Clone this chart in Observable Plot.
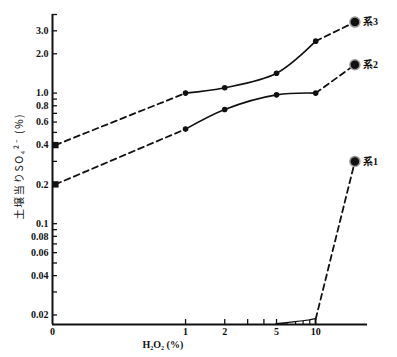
<!DOCTYPE html>
<html><head><meta charset="utf-8">
<script src="https://cdn.jsdelivr.net/npm/d3@7"></script>
<script src="https://cdn.jsdelivr.net/npm/@observablehq/plot@0.6"></script>
<style>body{margin:0;background:#fff} .ytitle text{letter-spacing:1.5px}</style></head>
<body><div id="chart"></div>
<script>
// H2O2 concentration (%)
const h2o2 = [0, 1, 2, 5, 10, 20];
const series3 = [0.4, 1.0, 1.1, 1.42, 2.5, 3.5];
const series2 = [0.2, 0.53, 0.75, 0.97, 1.0, 1.65];
const series1X = [5, 6, 7, 8, 9, 10, 20];
const series1 = [0.017, 0.0173, 0.0176, 0.0179, 0.0182, 0.0186, 0.3];
const seriesNames = ["系1", "系2", "系3"];
const xTicks = [1, 2, 3, 4, 5, 10];
const xLabeled = [0, 1, 2, 5, 10];
const xLabelText = ["0", "1", "2", "5", "10"];
const yTicks = [0.02,0.03,0.04,0.05,0.06,0.07,0.08,0.09,0.1,0.2,0.3,0.4,0.5,0.6,0.7,0.8,0.9,1.0,2.0,3.0,4.0];
const yLabeled = [0.02,0.04,0.06,0.08,0.1,0.2,0.4,0.6,0.8,1.0,2.0,3.0];
const yLabelText = ["0.02","0.04","0.06","0.08","0.1","0.2","0.4","0.6","0.8","1.0","2.0","3.0"];
const xTitle = "H₂O₂ (%)";
const yTitle = "土壌当りSO₄²⁻ (%)";

const xMin = 0.095, xMax = 25, yMin = 0.0169, yMax = 4.0;
const pos = v => v === 0 ? xMin : v;

const rows = (vals, name) => h2o2.map((x, i) => ({x: x === 0 ? 0.1 : x, y: vals[i], name, i}));
const s3 = rows(series3, seriesNames[2]);
const s2 = rows(series2, seriesNames[1]);
const s1 = series1X.map((x, i) => ({x, y: series1[i], name: seriesNames[0], i}));
const wedge = s1.slice(0, 6);
const ends = [s1[6], s2[5], s3[5]];

const font = "'Liberation Serif','Noto Sans CJK JP',serif";
const solid = {x: "x", y: "y", stroke: "#111", strokeWidth: 1.6, curve: "catmull-rom"};
const dashed = {x: "x", y: "y", stroke: "#111", strokeWidth: 1.8, strokeDasharray: "6,4"};

const chart = Plot.plot({
  width: 397, height: 357,
  marginLeft: 52, marginRight: 30, marginTop: 14, marginBottom: 33,
  style: {fontFamily: font, fontSize: "10px", fontWeight: "bold", color: "#111", background: "#fff"},
  x: {type: "log", domain: [xMin, xMax], label: null},
  y: {type: "log", domain: [yMin, yMax], label: null},
  marks: [
    Plot.axisX({ticks: xTicks, tickSize: -5, tickFormat: () => "", strokeWidth: 1.3, label: null}),
    Plot.axisY({ticks: yTicks, tickSize: -5, tickFormat: () => "", strokeWidth: 1.3, label: null}),
    Plot.text(xLabeled, {x: pos, text: (d, i) => xLabelText[i], frameAnchor: "bottom", dy: 10, fontSize: 10, fontWeight: "bold"}),
    Plot.text(yLabeled, {y: d => d, text: (d, i) => yLabelText[i], frameAnchor: "left", textAnchor: "end", dx: -4, fontSize: 10, fontWeight: "bold"}),
    Plot.ruleX([xMin], {stroke: "#111", strokeWidth: 2}),
    Plot.ruleY([yMin], {stroke: "#111", strokeWidth: 2}),
    // series 3 & 2
    Plot.line(s3.filter(d => d.i <= 1), dashed),
    Plot.line(s3.filter(d => d.i >= 1 && d.i <= 4), solid),
    Plot.line(s3.filter(d => d.i >= 4), dashed),
    Plot.line(s2.filter(d => d.i <= 1), dashed),
    Plot.line(s2.filter(d => d.i >= 1 && d.i <= 4), solid),
    Plot.line(s2.filter(d => d.i >= 4), dashed),
    // series 1
    Plot.areaY(wedge, {x: "x", y1: () => yMin, y2: "y", fill: "#fff", stroke: "#111", strokeWidth: 1.2}),
    Plot.ruleX(wedge.slice(1), {x: "x", y1: () => yMin, y2: "y", stroke: "#111", strokeWidth: 1.2}),
    Plot.line(s1.slice(5), dashed),
    // markers
    Plot.dot([s3[0], s2[0]], {x: "x", y: "y", symbol: "square", r: 3.6, fill: "#111"}),
    Plot.dot([...s3, ...s2].filter(d => d.i >= 1 && d.i <= 4), {x: "x", y: "y", r: 2.8, fill: "#111"}),
    Plot.dot(ends, {x: "x", y: "y", r: 5, fill: "#111", stroke: "#999", strokeWidth: 1.5}),
    Plot.text(ends, {x: "x", y: "y", text: "name", dx: 8, textAnchor: "start", fontSize: 10, fontFamily: font}),
    // titles
    Plot.text([xTitle], {frameAnchor: "bottom-left", dx: 90, dy: 23, textAnchor: "start", fontSize: 10}),
    Plot.text([yTitle], {frameAnchor: "left", rotate: -90, dx: -33, dy: 50, fontSize: 10.5, fontWeight: "normal", className: "ytitle", fontFamily: "'Noto Sans CJK JP','Liberation Serif',sans-serif"})
  ]
});
document.getElementById("chart").append(chart);
</script></body></html>
